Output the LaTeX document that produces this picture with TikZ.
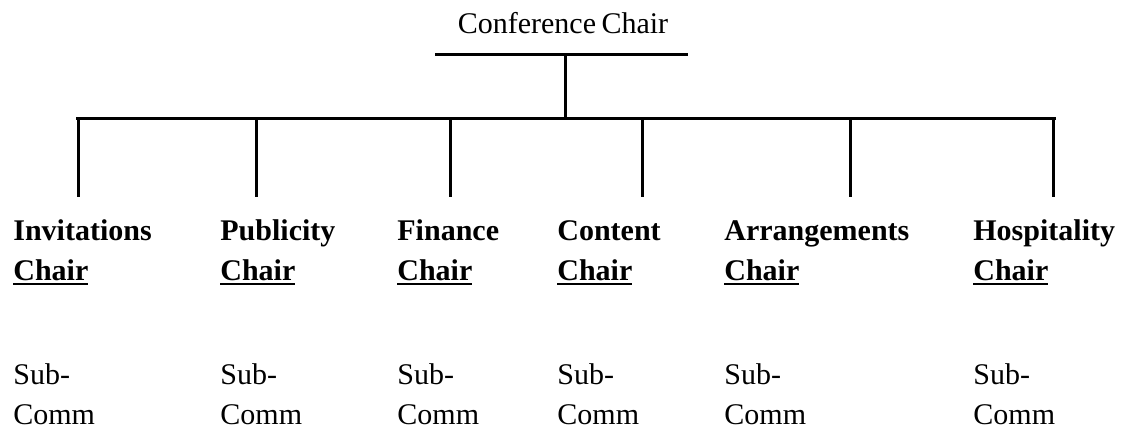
\documentclass[tikz,border=0pt]{standalone}
\usepackage{fontspec}
\setmainfont{Liberation Serif}
\newcommand{\ulchair}[1]{\setbox0\hbox{#1}\rlap{\rule[-2.5pt]{\wd0}{1.1pt}}\box0}
\tikzset{
  chairtxt/.style={anchor=base west, inner sep=0pt, align=left, font=\fontsize{15}{20}\selectfont\bfseries},
  subtxt/.style={anchor=base west, inner sep=0pt, align=left, font=\fontsize{15}{20}\selectfont},
  link/.style={line width=1.5pt}
}
\begin{document}
\begin{tikzpicture}[x=0.5pt, y=-0.5pt]
            \useasboundingbox (0,0) rectangle (1121,429);
            \node[subtxt, anchor=base] (conf) at (563,33) {Conference\kern-1pt\ Chair};
            \coordinate (barL) at (435,54);
            \coordinate (barR) at (688,54);
            \coordinate (stem) at (565,54);
            \coordinate (bus) at (565,118);
            \coordinate (busL) at (77,118);
            \coordinate (busR) at (1054,118);
            \draw[link] (barL) -- (barR) ;
            \draw[link] (stem) -- (bus) ;
            \draw[link, line cap=rect] (busL) -- (busR) ;
            % the six chairs
            \node[chairtxt] (inv) at (13,280) {Invitations\\\ulchair{Chair}};
            \node[chairtxt] (pub) at (220,280) {Publicity\\\ulchair{Chair}};
            \node[chairtxt] (fin) at (397,280) {Finance\\\ulchair{Chair}};
            \node[chairtxt] (con) at (557,280) {Content\\\ulchair{Chair}};
            \node[chairtxt] (arr) at (724,280) {Arrangements\\\ulchair{Chair}};
            \node[chairtxt] (hos) at (973,280) {Hospitality\\\ulchair{Chair}};
            \draw[link] (78,118) -- (78,197) ;
            \draw[link] (256,118) -- (256,197) ;
            \draw[link] (450,118) -- (450,197) ;
            \draw[link] (642,118) -- (642,197) ;
            \draw[link] (850,118) -- (850,197) ;
            \draw[link] (1053,118) -- (1053,197) ;
            % sub-committees
            \node[subtxt] (invsub) at (13,424) {Sub-\\Comm};
            \node[subtxt] (pubsub) at (220,424) {Sub-\\Comm};
            \node[subtxt] (finsub) at (397,424) {Sub-\\Comm};
            \node[subtxt] (consub) at (557,424) {Sub-\\Comm};
            \node[subtxt] (arrsub) at (724,424) {Sub-\\Comm};
            \node[subtxt] (hossub) at (973,424) {Sub-\\Comm};
        \end{tikzpicture}
\end{document}
